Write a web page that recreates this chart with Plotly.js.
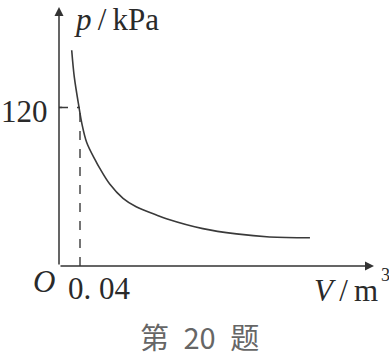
<!DOCTYPE html>
<html>
<head>
<meta charset="utf-8">
<script src="https://cdn.plot.ly/plotly-3.0.1.min.js"></script>
<style>html,body{margin:0;padding:0;background:#fff;}#chart{width:389px;height:356px;}</style>
</head>
<body>
<div id="chart"></div>
<script>
// Curve: volume V (m^3) and pressure p (kPa)
const volume = [0.0242, 0.0293, 0.038, 0.0432, 0.0528, 0.0686, 0.0775, 0.0966, 0.122, 0.147, 0.1855, 0.2046, 0.274, 0.338, 0.401, 0.478];
const pressure = [163.3, 142.5, 120.5, 108.5, 93.5, 80.5, 74.0, 62.0, 51.2, 44.8, 38.6, 35.8, 28.3, 24.3, 22.0, 21.4];
// Marked point
const markV = [0.04];
const markP = [120];
const markLabelsX = ["0. 04"];
const markLabelsY = ["120"];
const xLabel = "V";
const yLabel = "p";
const caption = "第\u200220\u2002题";

const serif = "Liberation Serif, Times New Roman, serif";
const ink = "#2a2a2a";
const xMax = 0.6, yMax = 196;

const traces = [{
  x: volume, y: pressure, mode: "lines", type: "scatter",
  line: {color: "#3a3a3a", width: 1.6, shape: "spline", smoothing: 1.0},
  hoverinfo: "skip"
}];

const shapes = [
  {type: "line", xref: "x", yref: "y", x0: 0, x1: markV[0], y0: markP[0], y1: markP[0],
   line: {color: "#3a3a3a", width: 1.4, dash: "dash"}},
  {type: "line", xref: "x", yref: "y", x0: markV[0], x1: markV[0], y0: 0, y1: markP[0],
   line: {color: "#3a3a3a", width: 1.4, dash: "dash"}},
  {type: "line", xref: "x", yref: "y", x0: 0, x1: 0.006, y0: markP[0], y1: markP[0],
   line: {color: "#3a3a3a", width: 1.4}}
];

function label(px, py, text, anchor, size, extra) {
  return Object.assign({
    x: px, y: py, xref: "paper", yref: "paper", text: text, showarrow: false,
    xanchor: anchor, yanchor: "middle", font: {family: serif, size: size, color: ink}
  }, extra || {});
}

const annotations = [
  // axes with arrows
  {x: xMax, y: 0, ax: 0, ay: 0, xref: "x", yref: "y", axref: "x", ayref: "y", text: "",
   showarrow: true, arrowhead: 2, arrowsize: 1.2, arrowwidth: 1.5, arrowcolor: "#333", standoff: 0},
  {x: 0, y: yMax, ax: 0, ay: 0, xref: "x", yref: "y", axref: "x", ayref: "y", text: "",
   showarrow: true, arrowhead: 2, arrowsize: 1.2, arrowwidth: 1.5, arrowcolor: "#333", standoff: 0},
  // labels (paper coordinates)
  label(-0.0286, 0.598, markLabelsY[0], "right", 31),
  label(-0.0476, -0.058, "<i>O</i>", "center", 31),
  label(0.0222, -0.087, markLabelsX[0], "left", 31),
  label(0.0413, 0.95, "<i>" + yLabel + "</i>\u2009/\u2009kPa", "left", 31),
  label(1.019, -0.093, "<i>" + xLabel + "</i>\u2009/\u2009m", "right", 31),
  label(1.038, -0.035, "3", "center", 18),
  label(0.4476, -0.270, caption, "center", 29,
        {font: {family: "Noto Sans CJK SC, sans-serif", size: 29, color: "#666666"}})
];

const layout = {
  width: 389, height: 356,
  margin: {l: 59, r: 15, t: 7, b: 90, pad: 0},
  paper_bgcolor: "#fff", plot_bgcolor: "#fff",
  showlegend: false,
  xaxis: {range: [0, xMax], showgrid: false, zeroline: false, showline: false, showticklabels: false, ticks: "", fixedrange: true},
  yaxis: {range: [0, yMax], showgrid: false, zeroline: false, showline: false, showticklabels: false, ticks: "", fixedrange: true},
  shapes: shapes,
  annotations: annotations
};

Plotly.newPlot("chart", traces, layout, {staticPlot: true, displayModeBar: false});
</script>
</body>
</html>
